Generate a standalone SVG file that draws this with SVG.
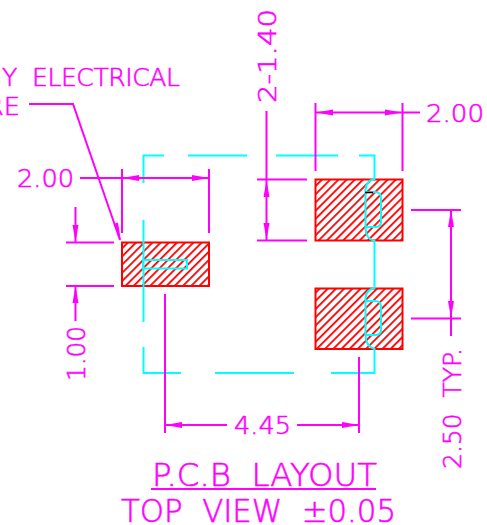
<svg xmlns="http://www.w3.org/2000/svg" width="487" height="525" viewBox="0 0 487 525">
<style>
.m{stroke:#ff00ff;stroke-width:2;fill:none}
.c{stroke:#00ffff;stroke-width:2;fill:none}
.p{stroke:#ff0000;stroke-width:2;fill:url(#h)}
.a{fill:#ff00ff}
text{font-family:"DejaVu Sans","Liberation Sans",sans-serif;font-weight:200;fill:#ff00ff;font-size:25px;stroke:#ff00ff;stroke-width:.6}
.t{font-size:32px}
</style>
<defs>
<pattern id="h" width="5.8" height="5.8" patternUnits="userSpaceOnUse" patternTransform="rotate(45)">
<rect width="5.8" height="5.8" fill="#fff"/><rect x="0" width="1.8" height="5.8" fill="#ff0000"/>
</pattern>
</defs>
<rect width="487" height="525" fill="#fff"/>
<g id="pads">
<rect class="p" x="122" y="242.500" width="87" height="43.500"/>
<rect class="p" x="315.500" y="179.500" width="87" height="61"/>
<rect class="p" x="315.500" y="288.500" width="87" height="60.500"/>
</g>
<g id="outline">
<path class="c" d="M143.500 183V155.500H164M188 155.500H247M276 155.500H338M359 155.500H374.500V179Q365.500 181 365.500 190V227Q365.500 239 374.500 241V288Q365.500 290 365.500 299V335Q365.500 346 374.500 349V373H331M294 373H215M181 373H143.500V347M143.500 322V220"/>
<path class="c" d="M143 260H187V268.500H143Z"/>
<path class="c" d="M365.500 192H375Q381 192 381 198V222Q381 227 375 227H365.500"/>
<path class="c" d="M365.500 301H375Q381 301 381 307V330Q381 335 375 335H365.500"/>
<path d="M365 192.500H373" stroke="#000" stroke-width="1.500"/>
</g>
<g id="dimensions">
<path class="m" d="M29 104H73L120 240"/>
<path class="a" d="M121 241L113.500 224L118 222.500Z"/>
<path class="m" d="M80 178H209M122 169V233M209 169V233"/>
<path class="a" d="M122 178L139 175V181ZM209 178L192 175V181Z"/>
<path class="m" d="M66 242.500H114M66 286H114M75.500 207V242M75.500 286V321"/>
<path class="a" d="M75.500 242L72.500 225H78.500ZM75.500 286L72.500 303H78.500Z"/>
<path class="m" d="M266.500 111V240M257 179.500H307M257 240.500H307"/>
<path class="a" d="M266.500 180L263.500 197H269.500ZM266.500 240L263.500 223H269.500Z"/>
<path class="m" d="M315.500 103V171M402.500 103V171M315 112.500H420"/>
<path class="a" d="M316 112.500L333 109.500V115.500ZM402 112.500L385 109.500V115.500Z"/>
<path class="m" d="M411 210H461M411 318.500H461M451 210V336"/>
<path class="a" d="M451 210L448 227H454ZM451 318L448 301H454Z"/>
<path class="m" d="M165 294V433M359 357V433M165 425H227M297 425H359"/>
<path class="a" d="M165 425L182 422V428ZM359 425L342 422V428Z"/>
<path class="m" d="M151 489H376"/>
</g>
<g id="labels">
<text x="2" y="86" textLength="178" lengthAdjust="spacing" xml:space="preserve">Y  ELECTRICAL</text>
<text x="-14" y="115" textLength="34" lengthAdjust="spacingAndGlyphs">RE</text>
<text x="17" y="187" textLength="57" lengthAdjust="spacingAndGlyphs">2.00</text>
<text x="426" y="122" textLength="58" lengthAdjust="spacingAndGlyphs">2.00</text>
<text x="234" y="434" textLength="57" lengthAdjust="spacingAndGlyphs">4.45</text>
<text transform="translate(85 381) rotate(-90)" textLength="55" lengthAdjust="spacingAndGlyphs">1.00</text>
<text transform="translate(276 103) rotate(-90)" textLength="94" lengthAdjust="spacingAndGlyphs">2-1.40</text>
<text transform="translate(461 469) rotate(-90)" textLength="121" lengthAdjust="spacingAndGlyphs" xml:space="preserve">2.50  TYP.</text>
<text class="t" x="152" y="486" textLength="225" lengthAdjust="spacingAndGlyphs" xml:space="preserve">P.C.B  LAYOUT</text>
<text class="t" x="121" y="522" textLength="275" lengthAdjust="spacingAndGlyphs" xml:space="preserve">TOP  VIEW  ±0.05</text>
</g>
</svg>
